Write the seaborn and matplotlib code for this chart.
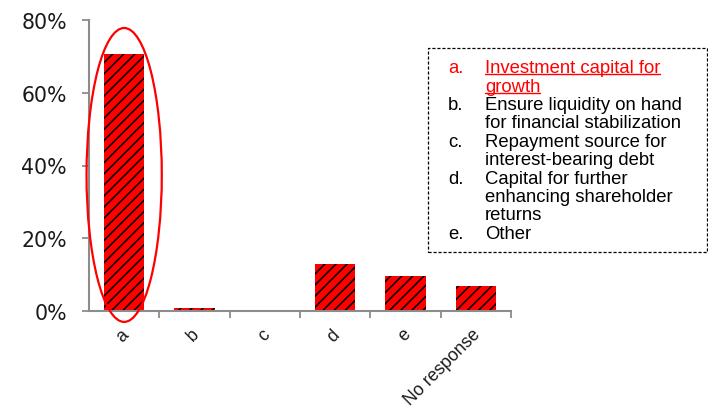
import matplotlib
matplotlib.use("Agg")
import matplotlib.pyplot as plt
from matplotlib.patches import Ellipse, Rectangle
from matplotlib.lines import Line2D
from matplotlib.ticker import FuncFormatter, FixedLocator
from matplotlib.transforms import ScaledTranslation
import seaborn as sns
import pandas as pd

# Survey: intended use of retained cash (share of respondents, %)
categories = ["a", "b", "c", "d", "e", "No response"]
shares = [70.6, 0.8, 0.0, 12.9, 9.6, 6.9]
y_ticks = [0, 20, 40, 60, 80]

legend_keys = ["a.", "b.", "c.", "d.", "e."]
legend_items = [
    ["Investment capital for", "growth"],
    ["Ensure liquidity on hand", "for financial stabilization"],
    ["Repayment source for", "interest-bearing debt"],
    ["Capital for further", "enhancing shareholder", "returns"],
    ["Other"],
]
highlight_key = "a."

sns.set_style("white")
plt.rcParams["hatch.linewidth"] = 1.15

W, H = 708, 410
fig = plt.figure(figsize=(W / 100, H / 100), dpi=100)
ax = fig.add_axes([89 / W, 1 - 312 / H, (511 - 89) / W, (312 - 21) / H])

df = pd.DataFrame({"category": categories, "share": shares})
sns.barplot(data=df, x="category", y="share", color="red", width=0.57,
            saturation=1, ax=ax)
for bar in ax.patches:
    bar.set_facecolor("red")
    bar.set_edgecolor("black")
    bar.set_linewidth(0)
    bar.set_hatch("///")

ax.set_xlim(-0.5, len(categories) - 0.5)
ax.set_ylim(0, 80)
ax.set_yticks(y_ticks)
ax.yaxis.set_major_formatter(FuncFormatter(lambda v, _: f"{v:.0f}%"))
ax.set_xlabel("")
ax.set_ylabel("")

for side in ("top", "right"):
    ax.spines[side].set_visible(False)
for side in ("left", "bottom"):
    ax.spines[side].set_color("#8c8c8c")
    ax.spines[side].set_linewidth(1.5)

ax.tick_params(axis="y", which="major", direction="out", length=5, width=1.3,
               color="#8c8c8c", pad=11, left=True)
for lbl in ax.get_yticklabels():
    lbl.set_fontfamily("DejaVu Sans")
    lbl.set_fontsize(14.8)
    lbl.set_color("#1a1a1a")

# category labels at bar centres, tick marks between categories
ax.tick_params(axis="x", which="major", length=0, pad=6)
ax.xaxis.set_minor_locator(FixedLocator([i + 0.5 for i in range(len(categories))]))
ax.tick_params(axis="x", which="minor", direction="out", length=5, width=1.3,
               color="#8c8c8c", bottom=True)
ax.set_xticks(range(len(categories)))
ax.set_xticklabels(categories, rotation=45, ha="right", rotation_mode="anchor",
                   fontfamily="Liberation Sans", fontsize=12.7, color="#1a1a1a")
shift = ScaledTranslation(-4 / 100, -6 / 100, fig.dpi_scale_trans)
for lbl in ax.get_xticklabels():
    lbl.set_transform(lbl.get_transform() + shift)

# highlight ring around the leading answer
ring = Ellipse((0, 37.4), width=1.07, height=80.8, fill=False,
               edgecolor="red", linewidth=1.6, clip_on=False, zorder=5)
ax.add_patch(ring)

# answer key box
box = Rectangle((428 / W, 1 - 253 / H), (707 - 428) / W, (253 - 49) / H,
                transform=fig.transFigure, fill=False, edgecolor="black",
                linewidth=0.9, linestyle=(0, (2.5, 1.5)))
fig.add_artist(box)

line_step = 18.4
baseline = 73.3
red_texts = []
for key, lines in zip(legend_keys, legend_items):
    col = "red" if key == highlight_key else "black"
    fig.text(448 / W, 1 - baseline / H, key, fontsize=13.3,
             fontfamily="Liberation Sans", color=col, va="baseline")
    for ln in lines:
        t = fig.text(485 / W, 1 - baseline / H, ln, fontsize=13.3,
                     fontfamily="Liberation Sans", color=col, va="baseline")
        if key == highlight_key:
            red_texts.append((t, baseline))
        baseline += line_step

# underline the highlighted answer
fig.canvas.draw()
renderer = fig.canvas.get_renderer()
for t, bl in red_texts:
    bb = t.get_window_extent(renderer)
    yline = 1 - (bl + 2.0) / H
    fig.add_artist(Line2D([bb.x0 / W, bb.x1 / W], [yline, yline],
                          transform=fig.transFigure, color="red", linewidth=1.0))

fig.savefig("out.png", dpi=100)
